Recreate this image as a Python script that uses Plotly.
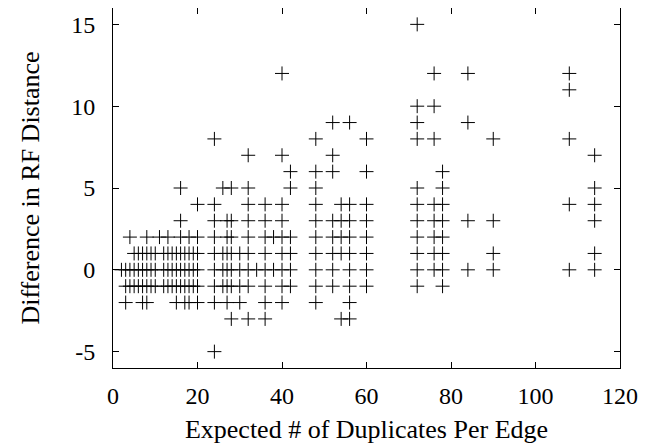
import plotly.graph_objects as go

# Column x-values and the RF-distance differences observed at each
col_x = [2, 3, 4, 5, 6, 7, 8, 9, 10, 11, 12, 13, 14, 15, 16, 17, 18, 19, 20,
         24, 26, 27, 28, 30, 32, 34, 36, 38, 40, 42, 48, 52, 54, 56, 60,
         72, 76, 78, 84, 90, 108, 114]
col_y = [
    [0],
    [0, -1, -2],
    [2, 0, -1],
    [1, 0, -1],
    [1, 0, -1],
    [1, 0, -1, -2],
    [2, 1, 0, -1, -2],
    [1, 0, -1],
    [1, 0, -1],
    [2],
    [1, 0, -1],
    [2, 1, 0, -1],
    [1, 0, -1],
    [1, 0, -1, -2],
    [5, 3, 2, 1, 0, -1],
    [1, 0, -1, -2],
    [2, 1, 0, -1, -2],
    [1, 0, -1],
    [4, 2, 1, 0, -1, -2],
    [8, 4, 3, 2, 1, 0, -1, -2, -5],
    [5, 1, 0, -1],
    [3, 2, 1, 0, -1, -2],
    [5, 3, 2, 1, 0, -1, -3],
    [1, 0, -1, -2],
    [7, 5, 4, 3, 2, 1, 0, -1, -3],
    [0],
    [4, 3, 2, 1, 0, -1, -2, -3],
    [2, 0],
    [12, 7, 4, 3, 2, 1, 0, -1, -2],
    [6, 5, 2, 1, 0, -1],
    [8, 6, 5, 4, 3, 2, 1, 0, -1, -2],
    [9, 7, 6, 3, 2, 1, 0, -1],
    [4, 3, 2, 1, -3],
    [9, 4, 3, 2, 1, 0, -1, -2, -3],
    [8, 6, 4, 3, 2, 1, 0, -1],
    [15, 10, 9, 8, 5, 4, 3, 2, 1, 0, -1],
    [12, 10, 8, 4, 3, 2, 1, 0],
    [6, 5, 4, 3, 2, 1, 0, -1],
    [12, 9, 3, 0],
    [8, 3, 1, 0],
    [12, 11, 8, 4, 0],
    [7, 5, 4, 3, 1, 0],
]

xs, ys = [], []
for cx, cy in zip(col_x, col_y):
    for v in cy:
        xs.append(cx)
        ys.append(v)

x_ticks = [0, 20, 40, 60, 80, 100, 120]
y_ticks = [-5, 0, 5, 10, 15]
y_tick_text = ["-5", "0", "5", "10", "15"]

font_family = "Liberation Serif, Times New Roman, serif"

fig = go.Figure()
fig.add_trace(go.Scatter(
    x=xs, y=ys, mode="markers",
    marker=dict(symbol="cross-thin", size=10, color="black",
                line=dict(color="black", width=1)),
    showlegend=False, hoverinfo="skip",
))

axis_common = dict(
    showgrid=False, zeroline=False, showline=True, linecolor="black",
    linewidth=1, mirror="ticks", ticks="inside", ticklen=6,
    tickcolor="black", tickwidth=1, automargin=False,
    tickfont=dict(family=font_family, size=24, color="black"),
)

# page body has an 8px default margin, so the figure is sized to fit
fig.update_layout(
    width=652, height=439,
    margin=dict(l=105, r=40, t=0, b=79),
    paper_bgcolor="white", plot_bgcolor="white",
    font=dict(family=font_family, size=24, color="black"),
    xaxis=dict(range=[0, 120], tickvals=x_ticks, ticklabelstandoff=6,
               title=dict(text="Expected # of Duplicates Per Edge",
                          font=dict(family=font_family, size=26), standoff=12),
               **axis_common),
    yaxis=dict(range=[-6, 16], tickvals=y_ticks, ticktext=y_tick_text,
               ticklabelstandoff=12,
               title=dict(text="Difference in RF Distance",
                          font=dict(family=font_family, size=26), standoff=24),
               **axis_common),
)

fig.write_html("out.html")
